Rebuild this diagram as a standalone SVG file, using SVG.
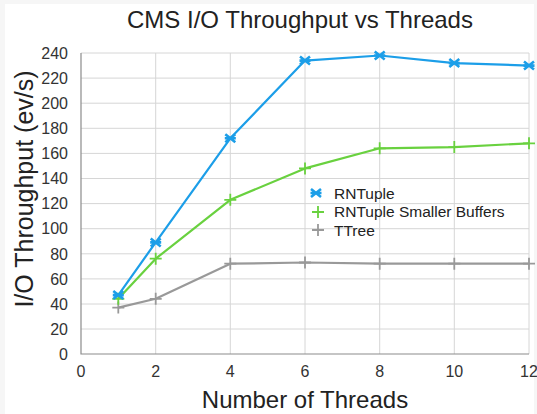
<svg xmlns="http://www.w3.org/2000/svg" width="537" height="414" viewBox="0 0 537 414">
<defs>
<style>
.grid{stroke:#d6d6d6;stroke-width:1;fill:none}
.axis{stroke:#8c8c8c;stroke-width:1.2;fill:none}
.tick{font-family:"Liberation Sans",Arial,sans-serif;font-size:16px;fill:#333}
.ttl{font-family:"Liberation Sans",Arial,sans-serif;fill:#222}
.leg{font-family:"Liberation Sans",Arial,sans-serif;font-size:15.5px;fill:#222}
.s1{stroke:#1c9ee8;stroke-width:2.2;fill:none;stroke-linejoin:round}
.s2{stroke:#69d13f;stroke-width:2.2;fill:none;stroke-linejoin:round}
.s3{stroke:#999999;stroke-width:2.2;fill:none;stroke-linejoin:round}
</style>
<path id="mx" d="M-5,-4 L5,4 M-5,4 L5,-4 M-5.5,0 L5.5,0" stroke-width="2.6"/>
<path id="mp" d="M-6,0 L6,0 M0,-6 L0,6" stroke-width="1.8"/>
</defs>
<rect x="0" y="0" width="537" height="414" fill="#f6f6f6"/>
<rect x="5" y="4" width="529" height="410" fill="#ffffff"/>
<text class="ttl" x="300" y="28" font-size="24" text-anchor="middle">CMS I/O Throughput vs Threads</text>
<g id="grid">
<path class="grid" d="M155.7,53V354M230.3,53V354M305,53V354M379.7,53V354M454.3,53V354M529,53V354"/>
<path class="grid" d="M81,53H529M81,78.1H529M81,103.2H529M81,128.3H529M81,153.4H529M81,178.5H529M81,203.6H529M81,228.7H529M81,253.8H529M81,278.9H529M81,304H529M81,329H529"/>
<path class="axis" d="M81,53V354H529"/>
</g>
<g id="yticks" class="tick" text-anchor="end">
<text x="68" y="58.7">240</text>
<text x="68" y="83.8">220</text>
<text x="68" y="108.9">200</text>
<text x="68" y="134">180</text>
<text x="68" y="159.1">160</text>
<text x="68" y="184.2">140</text>
<text x="68" y="209.3">120</text>
<text x="68" y="234.4">100</text>
<text x="68" y="259.5">80</text>
<text x="68" y="284.6">60</text>
<text x="68" y="309.7">40</text>
<text x="68" y="334.8">20</text>
<text x="68" y="359.8">0</text>
</g>
<g id="xticks" class="tick" text-anchor="middle">
<text x="81" y="377">0</text>
<text x="155.7" y="377">2</text>
<text x="230.3" y="377">4</text>
<text x="305" y="377">6</text>
<text x="379.7" y="377">8</text>
<text x="454.3" y="377">10</text>
<text x="529" y="377">12</text>
</g>
<text class="ttl" x="305" y="408" font-size="24" text-anchor="middle">Number of Threads</text>
<text class="ttl" transform="translate(33,189) rotate(-90)" font-size="25" text-anchor="middle">I/O Throughput (ev/s)</text>
<g id="connectors">
<polyline id="line-ttree" class="s3" points="118.3,307.6 155.7,298.8 230.3,263.7 305,262.5 379.7,263.7 454.3,263.7 529,263.7"/>
<polyline id="line-rnsmall" class="s2" points="118.3,298.8 155.7,258.7 230.3,199.8 305,168.4 379.7,148.3 454.3,147.1 529,143.3"/>
<polyline id="line-rntuple" class="s1" points="118.3,295.1 155.7,242.4 230.3,138.3 305,60.6 379.7,55.5 454.3,63.1 529,65.6"/>
</g>
<g id="markers-ttree" stroke="#999999">
<use href="#mp" x="118.3" y="307.6"/><use href="#mp" x="155.7" y="298.8"/><use href="#mp" x="230.3" y="263.7"/><use href="#mp" x="305" y="262.5"/><use href="#mp" x="379.7" y="263.7"/><use href="#mp" x="454.3" y="263.7"/><use href="#mp" x="529" y="263.7"/>
</g>
<g id="markers-rnsmall" stroke="#69d13f">
<use href="#mp" x="118.3" y="298.8"/><use href="#mp" x="155.7" y="258.7"/><use href="#mp" x="230.3" y="199.8"/><use href="#mp" x="305" y="168.4"/><use href="#mp" x="379.7" y="148.3"/><use href="#mp" x="454.3" y="147.1"/><use href="#mp" x="529" y="143.3"/>
</g>
<g id="markers-rntuple" stroke="#1c9ee8">
<use href="#mx" x="118.3" y="295.1"/><use href="#mx" x="155.7" y="242.4"/><use href="#mx" x="230.3" y="138.3"/><use href="#mx" x="305" y="60.6"/><use href="#mx" x="379.7" y="55.5"/><use href="#mx" x="454.3" y="63.1"/><use href="#mx" x="529" y="65.6"/>
</g>
<g id="legend">
<use href="#mx" x="316" y="193" stroke="#1c9ee8"/>
<text class="leg" x="334" y="198.5">RNTuple</text>
<use href="#mp" x="318" y="212" stroke="#69d13f"/>
<text class="leg" x="334" y="217">RNTuple Smaller Buffers</text>
<use href="#mp" x="318" y="230" stroke="#999999"/>
<text class="leg" x="334" y="235.5">TTree</text>
</g>
</svg>
